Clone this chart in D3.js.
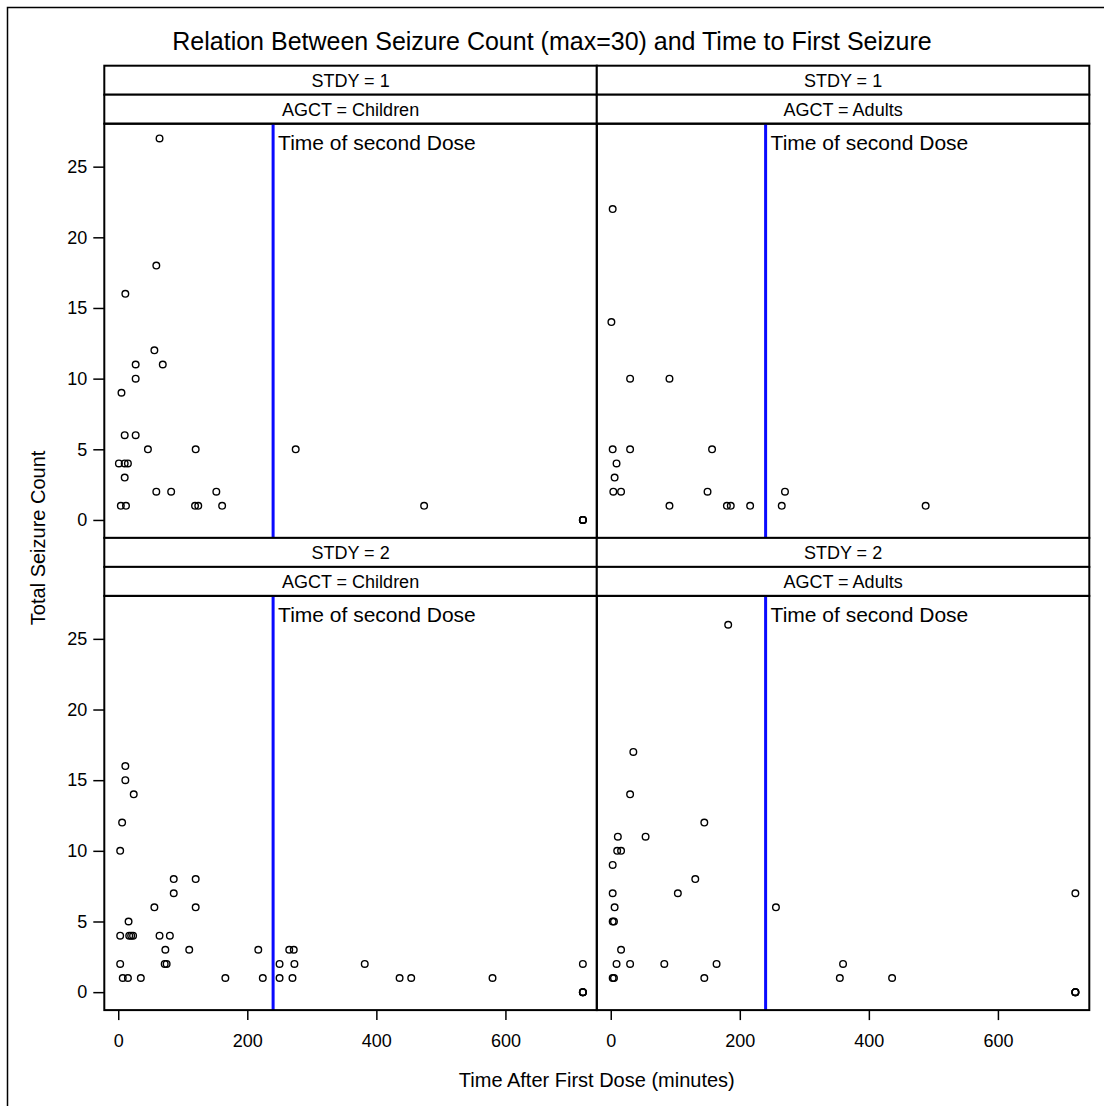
<!DOCTYPE html>
<html>
<head>
<meta charset="utf-8">
<script src="https://cdn.jsdelivr.net/npm/d3@7"></script>
<style>
  html, body { margin: 0; padding: 0; background: #fff; }
  svg { display: block; }
  text { font-family: "Liberation Sans", Arial, sans-serif; fill: #000; }
</style>
</head>
<body>
<svg id="chart" width="1104" height="1106"></svg>
<script>
// Panel factors
const studies = [1, 2];
const ageGroups = ["Children", "Adults"];
const secondDoseTime = 240;
const xTicks = [0, 200, 400, 600];
const yTicks = [0, 5, 10, 15, 20, 25];

// Time to first seizure (minutes) and total seizure count, per panel
const s1ChildrenTime  = [64, 59, 11, 56, 27, 69, 27, 5, 10, 27, 46, 120, 275, 1, 10, 15, 10, 59, 82, 152, 4, 12, 119, 124, 161, 474, 720, 720, 720, 720];
const s1ChildrenCount = [27, 18, 16, 12, 11, 11, 10, 9, 6, 6, 5, 5, 5, 4, 4, 4, 3, 2, 2, 2, 1, 1, 1, 1, 1, 1, 0, 0, 0, 0];

const s1AdultsTime  = [3, 1, 30, 91, 3, 30, 157, 9, 6, 4, 16, 150, 270, 91, 180, 186, 216, 265, 488];
const s1AdultsCount = [22, 14, 10, 10, 5, 5, 5, 4, 3, 2, 2, 2, 2, 1, 1, 1, 1, 1, 1];

const s2ChildrenTime  = [11, 11, 24, 6, 3, 86, 120, 86, 56, 120, 16, 3, 17, 20, 23, 64, 80, 73, 110, 217, 265, 272, 3, 72, 75, 250, 273, 382, 720, 7, 15, 35, 166, 224, 250, 270, 436, 454, 580, 720, 720, 720, 720];
const s2ChildrenCount = [16, 15, 14, 12, 10, 8, 8, 7, 6, 6, 5, 4, 4, 4, 4, 4, 4, 3, 3, 3, 3, 3, 2, 2, 2, 2, 2, 2, 2, 1, 1, 1, 1, 1, 1, 1, 1, 1, 1, 0, 0, 0, 0];

const s2AdultsTime  = [182, 35, 30, 145, 11, 54, 10, 16, 3, 131, 3, 104, 6, 256, 720, 3, 5, 16, 9, 30, 83, 164, 360, 3, 5, 145, 355, 436, 720, 720, 720, 720];
const s2AdultsCount = [26, 17, 14, 12, 11, 11, 10, 10, 9, 8, 7, 7, 6, 6, 7, 5, 5, 3, 2, 2, 2, 2, 2, 1, 1, 1, 1, 1, 0, 0, 0, 0];

const panelData = {
  "1|Children": [s1ChildrenTime, s1ChildrenCount],
  "1|Adults":   [s1AdultsTime, s1AdultsCount],
  "2|Children": [s2ChildrenTime, s2ChildrenCount],
  "2|Adults":   [s2AdultsTime, s2AdultsCount]
};

// Layout
const svg = d3.select("#chart");
const gridLeft = 104.3, colW = 492.5;
const gridTop = 65.7, headH = 29, plotH = 414.2;
const rowH = headH * 2 + plotH;
const fontTick = 18, fontHead = 18, fontNote = 21;

// Outer frame
svg.append("rect")
  .attr("x", 7.5).attr("y", 7.5).attr("width", 1200).attr("height", 1200)
  .attr("fill", "none").attr("stroke", "#000").attr("stroke-width", 1.5);

// Title
svg.append("text")
  .attr("x", 552).attr("y", 50)
  .attr("text-anchor", "middle")
  .style("font-size", "25px")
  .text("Relation Between Seizure Count (max=30) and Time to First Seizure");

studies.forEach((stdy, r) => {
  ageGroups.forEach((agct, c) => {
    const x0 = gridLeft + c * colW;
    const y0 = gridTop + r * rowH;
    const pTop = y0 + headH * 2;
    const pBot = pTop + plotH;

    const x = d3.scaleLinear().domain([-21.6, 741.6]).range([x0, x0 + colW]);
    const y = d3.scaleLinear().domain([-1.27, 28.04]).range([pBot, pTop]);

    const g = svg.append("g");

    // Header strips
    [["STDY = " + stdy, y0], ["AGCT = " + agct, y0 + headH]].forEach(([label, hy]) => {
      g.append("rect")
        .attr("x", x0).attr("y", hy).attr("width", colW).attr("height", headH)
        .attr("fill", "#fff").attr("stroke", "#000").attr("stroke-width", 2);
      g.append("text")
        .attr("x", x0 + colW / 2).attr("y", hy + headH / 2)
        .attr("dy", "0.36em")
        .attr("text-anchor", "middle")
        .style("font-size", fontHead + "px")
        .text(label);
    });

    // Second dose reference line and its label
    g.append("line")
      .attr("x1", x(secondDoseTime)).attr("x2", x(secondDoseTime))
      .attr("y1", pTop).attr("y2", pBot)
      .attr("stroke", "#0a0aff").attr("stroke-width", 3);
    g.append("text")
      .attr("x", x(secondDoseTime) + 5).attr("y", pTop + 26)
      .style("font-size", fontNote + "px")
      .text("Time of second Dose");

    // Points
    const [times, counts] = panelData[stdy + "|" + agct];
    g.append("g").selectAll("circle")
      .data(times.map((t, i) => [t, counts[i]]))
      .join("circle")
      .attr("cx", d => x(d[0]))
      .attr("cy", d => y(d[1]))
      .attr("r", 3.3)
      .attr("fill", "none")
      .attr("stroke", "#000")
      .attr("stroke-width", 1.4);

    // Panel frame
    g.append("rect")
      .attr("x", x0).attr("y", pTop).attr("width", colW).attr("height", plotH)
      .attr("fill", "none").attr("stroke", "#000").attr("stroke-width", 2);

    // Y axis on left column
    if (c === 0) {
      const ya = g.append("g")
        .attr("transform", `translate(${x0},0)`)
        .call(d3.axisLeft(y).tickValues(yTicks).tickSize(11).tickPadding(6));
      ya.select(".domain").remove();
      ya.selectAll(".tick line").attr("stroke", "#000").attr("stroke-width", 1.5);
      ya.selectAll(".tick text").style("font-size", fontTick + "px")
        .style("font-family", '"Liberation Sans", Arial, sans-serif').attr("fill", "#000");
    }
    // X axis on bottom row
    if (r === studies.length - 1) {
      const xa = g.append("g")
        .attr("transform", `translate(0,${pBot})`)
        .call(d3.axisBottom(x).tickValues(xTicks).tickSize(10).tickPadding(14));
      xa.select(".domain").remove();
      xa.selectAll(".tick line").attr("stroke", "#000").attr("stroke-width", 1.5);
      xa.selectAll(".tick text").style("font-size", fontTick + "px")
        .style("font-family", '"Liberation Sans", Arial, sans-serif').attr("fill", "#000");
    }
  });
});

// Axis titles
svg.append("text")
  .attr("x", gridLeft + colW).attr("y", 1087)
  .attr("text-anchor", "middle")
  .style("font-size", "20px")
  .text("Time After First Dose (minutes)");

svg.append("text")
  .attr("transform", `translate(45,${gridTop + rowH})rotate(-90)`)
  .attr("text-anchor", "middle")
  .style("font-size", "20px")
  .text("Total Seizure Count");
</script>
</body>
</html>
